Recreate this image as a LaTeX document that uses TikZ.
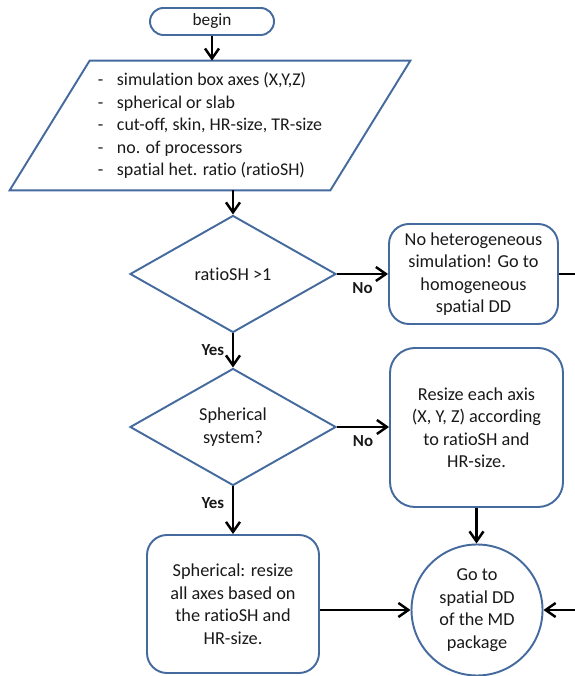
\documentclass[tikz,border=0pt]{standalone}
\usepackage{fontspec}
\setmainfont{Carlito}[Ligatures=NoCommon]
\usepackage{xcolor}
\usepackage{tikz}
\usetikzlibrary{arrows.meta,shapes,positioning}
\definecolor{flowblue}{RGB}{68, 106, 158}
\definecolor{flowtext}{RGB}{25, 25, 25}

\begin{document}
\begin{tikzpicture}[
        every node/.style={font=\fontsize{10.4}{12.8}\selectfont, text=flowtext},
        shapeline/.style={draw=flowblue, line width=1.1pt},
        process/.style={shapeline, rectangle, rounded corners=0.4cm, align=center, inner sep=2pt},
        decision/.style={shapeline, diamond, minimum width=4.12cm, minimum height=2.34cm, inner sep=0pt, align=center},
        flow/.style={-{Straight Barb[length=2mm,width=2.8mm]}, line width=1.4pt},
        answer/.style={font=\bfseries\fontsize{9.6}{11}\selectfont}
    ]
            \useasboundingbox (0,0) rectangle (11.5,13.52);

            % start and input data
            \node[process, rounded corners=0.27cm, minimum width=2.48cm, minimum height=0.54cm, font=\fontsize{9.8}{11}\selectfont] (begin) at (4.24,13.09) {begin};
            \node[minimum width=6.4cm, minimum height=2.58cm, align=left, font=\fontsize{10.2}{12.76}\selectfont] (input) at (4.2,11.01) {\makebox[0.38cm][l]{-}simulation box axes (X,Y,Z)\\
                \makebox[0.38cm][l]{-}spherical or slab\\
                \makebox[0.38cm][l]{-}cut-off, skin, HR-size, TR-size\\
                \makebox[0.38cm][l]{-}no. of processors\\
                \makebox[0.38cm][l]{-}spatial het. ratio (ratioSH)};
            \draw[shapeline] ([xshift=0.8cm]input.north west) -- ([xshift=0.8cm]input.north east) -- ([xshift=-0.8cm]input.south east) -- ([xshift=-0.8cm]input.south west) -- cycle;

            % decisions
            \node[decision] (ratio) at (4.66,8.04) {ratioSH >1};
            \node[decision] (spher) at (4.66,4.98) {Spherical\\system?};

            % actions
            \node[process, minimum width=3.38cm, minimum height=2.0cm] (homog) at (9.47,8.04) {No heterogeneous\\simulation! Go to\\homogeneous\\spatial DD};
            \node[process, minimum width=3.46cm, minimum height=3.18cm, rounded corners=0.5cm] (resize) at (9.53,4.97) {Resize each axis\\(X, Y, Z) according\\to ratioSH and\\HR-size.};
            \node[process, minimum width=3.44cm, minimum height=2.76cm] (sphres) at (4.66,1.44) {Spherical: resize\\all axes based on\\the ratioSH and\\HR-size.};
            \node[shapeline, circle, minimum size=2.62cm, align=center, inner sep=0pt] (goto) at (9.54,1.32) {Go to\\spatial DD\\of the MD\\package};
            \coordinate (rim) at (11.6,8.04);

            % connecting arrows
            \draw[flow] (begin.south) -- (begin.south |- input.north);
            \draw[flow] (ratio.north |- input.south) -- (ratio.north);
            \draw[flow] (ratio.east) -- node[answer, below=1pt] {No} (homog.west);
            \draw[flow] (ratio.south) -- node[answer, left=1pt] {Yes} (spher.north);
            \draw[flow] (spher.east) -- node[answer, below=1pt] {No} (spher.east -| resize.west);
            \draw[flow] (spher.south) -- node[answer, left=1pt, pos=0.35] {Yes} (sphres.north);
            \draw[flow] (resize.south) -- (resize.south |- goto.north);
            \draw[flow] (goto.west -| sphres.east) -- (goto.west);
            \draw[flow] (homog.east) -- (rim) |- (goto.east);
        \end{tikzpicture}
\end{document}
